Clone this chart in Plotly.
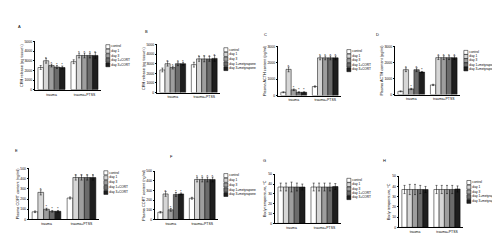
import plotly.graph_objects as go

W, H = 500, 241
groups = ["trauma", "trauma+PTSS"]
colors = ["#ffffff", "#d6d6d6", "#9e9e9e", "#6b6b6b", "#1e1e1e"]

names_cort = ["control", "day 1", "day 3", "day 1+CORT", "day 3+CORT"]
names_met = ["control", "day 1", "day 3", "day 1+metyrapone", "day 3+metyrapone"]

# values per series: [trauma, trauma+PTSS]
A_vals = [[2300, 2900], [3000, 3550], [2500, 3550], [2350, 3550], [2300, 3550]]
A_err = [[200, 200], [250, 250], [150, 250], [150, 250], [150, 300]]
B_vals = [[2350, 2900], [3000, 3500], [2600, 3500], [3000, 3500], [3000, 3550]]
B_err = [[200, 250], [250, 250], [150, 300], [200, 250], [150, 300]]
C_vals = [[200, 550], [1600, 2300], [350, 2300], [200, 2300], [200, 2300]]
C_err = [[30, 40], [150, 120], [50, 120], [30, 120], [30, 120]]
D_vals = [[200, 600], [1550, 2300], [350, 2300], [1550, 2300], [1400, 2300]]
D_err = [[30, 40], [120, 120], [40, 120], [120, 120], [40, 120]]
E_vals = [[75, 210], [265, 410], [100, 410], [80, 410], [80, 410]]
E_err = [[8, 10], [25, 25], [10, 25], [8, 25], [8, 25]]
F_vals = [[75, 220], [265, 415], [100, 415], [260, 415], [265, 415]]
F_err = [[8, 10], [25, 25], [15, 25], [20, 25], [10, 25]]
G_vals = [[37, 37], [37, 37], [37, 37], [37, 37], [37, 37.5]]
G_err = [[4, 4], [4, 4], [5, 4], [4, 4], [3, 3]]
H_vals = [[37, 37], [37, 37], [37, 37], [37, 37], [37, 37.5]]
H_err = [[4, 4], [5, 4], [5, 4], [4, 4], [3, 3]]

# significance marks per series (None = no mark on that series)
stars_sig = [None, ["*", "*"], ["*", "*"], ["*", "*"], ["*", "*"]]
stars_none = [None] * 5

panels = [
    dict(letter="A", box=(27, 93, 32, 81), leg=(99, 35, 58), lp=(8, 12),
         ytitle="CRH release (pg tissue⁻¹)", ymax=5000, dt=1000,
         names=names_cort, vals=A_vals, err=A_err, stars=stars_sig),
    dict(letter="B", box=(149, 212, 35, 84), leg=(217, 38, 62), lp=(135, 17),
         ytitle="CRH release (pg tissue⁻¹)", ymax=5000, dt=1000,
         names=names_met, vals=B_vals, err=B_err, stars=stars_sig),
    dict(letter="C", box=(270, 333, 37, 87), leg=(340, 40, 63), lp=(257, 20),
         ytitle="Plasma ACTH content (pg/ml)", ymax=3000, dt=1000,
         names=names_cort, vals=C_vals, err=C_err, stars=stars_sig),
    dict(letter="D", box=(387, 452, 37, 86), leg=(457, 41, 62), lp=(373, 20),
         ytitle="Plasma ACTH content (pg/ml)", ymax=3000, dt=1000,
         names=names_met, vals=D_vals, err=D_err, stars=stars_sig),
    dict(letter="E", box=(21, 91, 161, 213), leg=(97, 163, 188), lp=(5, 143),
         ytitle="Plasma CORT content (ng/ml)", ymax=500, dt=100,
         names=names_cort, vals=E_vals, err=E_err, stars=stars_sig),
    dict(letter="F", box=(147, 210, 164, 213), leg=(217, 166, 190), lp=(160, 149),
         ytitle="Plasma CORT content (ng/ml)", ymax=500, dt=100,
         names=names_met, vals=F_vals, err=F_err, stars=stars_sig),
    dict(letter="G", box=(267, 333, 167, 217), leg=(340, 171, 193), lp=(256, 153),
         ytitle="Body temperature, °C", ymax=50, dt=10,
         names=names_cort, vals=G_vals, err=G_err, stars=stars_none),
    dict(letter="H", box=(391, 455, 169, 221), leg=(460, 173, 197), lp=(380, 153),
         ytitle="Body temperature, °C", ymax=50, dt=10,
         names=names_met, vals=H_vals, err=H_err, stars=stars_none),
]

FONT = "Liberation Sans, Arial, sans-serif"
fig = go.Figure()
layout = {}
annotations = []

for i, p in enumerate(panels):
    ax = 2 * i + 1
    lax = 2 * i + 2
    xs = "" if ax == 1 else str(ax)
    x0, x1, y0, y1 = p["box"]
    for k in range(5):
        bar_kw = {}
        if p["stars"][k] is not None:
            bar_kw = dict(text=p["stars"][k], textposition="outside",
                          textfont=dict(size=4, color="#000"))
        fig.add_trace(go.Bar(
            x=groups, y=p["vals"][k], name=p["names"][k],
            marker=dict(color=colors[k], line=dict(color="#000", width=0.5)),
            error_y=dict(type="data", array=p["err"][k], color="#000", thickness=0.5, width=1),
            cliponaxis=False, offsetgroup=str(k),
            xaxis="x" + xs, yaxis="y" + xs, showlegend=False, **bar_kw,
        ))
    layout["xaxis" + xs] = dict(
        domain=[x0 / W, x1 / W], anchor="y" + xs, showline=True, linecolor="#000",
        linewidth=0.6, ticks="", tickfont=dict(size=3.4, family=FONT, color="#000"),
        showgrid=False, zeroline=False, ticklabelstandoff=1,
    )
    layout["yaxis" + xs] = dict(
        domain=[1 - y1 / H, 1 - y0 / H], anchor="x" + xs, range=[0, p["ymax"]],
        dtick=p["dt"], showline=True, linecolor="#000", linewidth=0.6,
        ticks="outside", ticklen=1.5, tickwidth=0.5, tickcolor="#000",
        tickfont=dict(size=3.4, family=FONT, color="#000"), showgrid=False,
        zeroline=False,
        title=dict(text=p["ytitle"], font=dict(size=3.8, family=FONT, color="#000"), standoff=1),
    )
    # legend drawn as a small categorical scatter
    lx, ly0, ly1 = p["leg"]
    ls = str(lax)
    fig.add_trace(go.Scatter(
        x=[0] * 5, y=p["names"], mode="markers+text", text=p["names"],
        textposition="middle right", textfont=dict(size=3.2, family=FONT, color="#000"),
        marker=dict(symbol="square", size=4, color=colors,
                    line=dict(color="#000", width=0.5)),
        xaxis="x" + ls, yaxis="y" + ls, showlegend=False, hoverinfo="skip", cliponaxis=False,
    ))
    layout["xaxis" + ls] = dict(domain=[lx / W, min(1, (lx + 30) / W)], anchor="y" + ls,
                                range=[-0.3, 10], visible=False)
    layout["yaxis" + ls] = dict(domain=[1 - ly1 / H, 1 - ly0 / H], anchor="x" + ls,
                                type="category", visible=False, range=[4.5, -0.5])
    annotations.append(dict(text=p["letter"], x=p["lp"][0] / W, y=1 - p["lp"][1] / H,
                            xref="paper", yref="paper", showarrow=False,
                            font=dict(size=4, family=FONT, color="#000")))

fig.update_layout(**layout)
fig.update_layout(
    width=W, height=H, margin=dict(l=0, r=0, t=0, b=0),
    paper_bgcolor="#fff", plot_bgcolor="#fff", barmode="group",
    bargap=0.18, bargroupgap=0, annotations=annotations, showlegend=False,
    font=dict(family=FONT, color="#000"),
)
fig.write_html("out.html")
